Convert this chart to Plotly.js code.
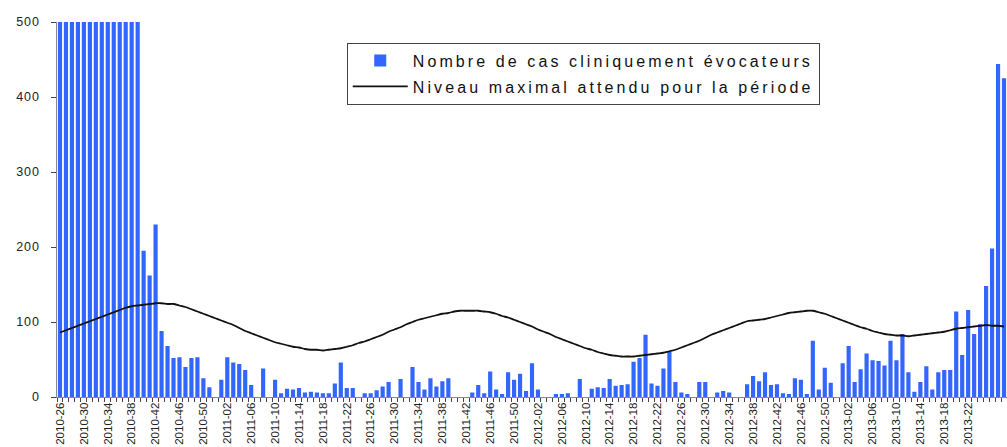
<!DOCTYPE html>
<html>
<head>
<meta charset="utf-8">
<script src="https://cdn.plot.ly/plotly-3.0.1.min.js"></script>
<style>
html,body{margin:0;padding:0;background:#fff;}
#chart{width:1007px;height:447px;}
.legendtext{letter-spacing:3.1px;}
.ytick text{letter-spacing:1px;}
</style>
</head>
<body>
<div id="chart"></div>
<script>
// Weekly categories 2010-26 .. 2013-28 (ISO years of 52 weeks)
const startYear = 2010, startWeek = 26, nWeeks = 159;
const categories = [];
(function(){
  let y = startYear, w = startWeek;
  for (let i = 0; i < nWeeks; i++) {
    categories.push(y + '-' + (w < 10 ? '0' + w : '' + w));
    w++; if (w > 52) { w = 1; y++; }
  }
})();

// Shown tick labels
const tickLabels = [
  '2010-26','2010-30','2010-34','2010-38','2010-42','2010-46','2010-50',
  '2011-02','2011-06','2011-10','2011-14','2011-18','2011-22','2011-26','2011-30','2011-34','2011-38','2011-42','2011-46','2011-50',
  '2012-02','2012-06','2012-10','2012-14','2012-18','2012-22','2012-26','2012-30','2012-34','2012-38','2012-42','2012-46','2012-50',
  '2013-02','2013-06','2013-10','2013-14','2013-18','2013-22'
];

// Nombre de cas cliniquement évocateurs (weekly)
const cas = [
  500,500,500,500,500,500,500,500,500,500,
  500,500,500,500,195,162,230,88,68,52,
  53,40,52,53,25,13,0,23,53,46,
  44,36,16,0,38,0,23,5,11,10,
  12,6,7,6,5,5,18,46,12,12,
  0,5,5,9,14,20,0,24,0,40,
  20,10,25,14,21,25,0,0,0,6,
  16,5,34,10,4,33,23,31,8,45,
  10,0,0,4,4,5,0,24,0,11,
  13,12,24,15,16,17,47,52,83,18,
  15,38,60,20,6,4,0,20,20,0,
  6,8,6,0,0,17,28,21,33,16,
  17,5,4,25,23,4,75,10,39,19,
  0,45,68,20,37,58,49,48,42,75,
  49,84,33,7,20,41,10,33,36,36,
  114,56,116,84,97,148,198,444,425
];

// Niveau maximal attendu pour la période (weekly)
const niveauMax = [
  86,89,92,95,98,101,104,107,110,113,
  116,119,121,122,123,124,125,125,124,124,
  122,120,117,114,111,108,105,102,99,96,
  92,88,85,82,79,76,73,71,69,67,
  66,64,63,63,62,63,64,65,67,69,
  72,74,77,80,83,87,90,93,97,100,
  103,105,107,109,111,112,114,115,115,115,
  115,114,113,111,108,106,103,100,97,94,
  90,87,84,80,77,74,71,68,65,63,
  60,58,56,55,54,54,54,55,56,57,
  58,59,61,63,66,69,72,75,79,83,
  86,89,92,95,98,101,102,103,104,106,
  108,110,112,113,114,115,115,113,111,108,
  105,102,99,96,93,91,88,86,84,83,
  82,82,81,82,83,84,85,86,87,89,
  91,92,93,94,95,96,95,95,94
];

const yTicks = [0,100,200,300,400,500];

const tickText = categories.map(c => tickLabels.indexOf(c) >= 0 ? c : '');

const traces = [
  {
    type: 'bar', x: categories, y: cas,
    name: 'Nombre de cas cliniquement évocateurs',
    legendgroup: 'g1',
    marker: {color: '#3366FF', line: {width: 0}},
    hoverinfo: 'x+y'
  },
  {
    type: 'scatter', mode: 'lines', x: categories, y: niveauMax,
    name: 'Niveau maximal attendu pour la période',
    legendgroup: 'g2',
    line: {color: '#111111', width: 1.8, shape: 'spline', smoothing: 0.6}
  }
];

const layout = {
  width: 1007, height: 447,
  margin: {l: 57, r: 0, t: 22, b: 50, pad: 0},
  paper_bgcolor: '#ffffff', plot_bgcolor: '#ffffff',
  font: {family: '"Liberation Sans", Arial, sans-serif', color: '#222'},
  bargap: 0.3,
  showlegend: true,
  legend: {
    x: 0.305, y: 0.945, xanchor: 'left', yanchor: 'top',
    bordercolor: '#444', borderwidth: 1, bgcolor: '#ffffff',
    font: {size: 16, color: '#111'}, traceorder: 'grouped',
    tracegroupgap: 2, itemwidth: 55
  },
  xaxis: {
    type: 'category', range: [-0.5, nWeeks - 0.5],
    tickmode: 'array', tickvals: categories, ticktext: tickText,
    tickangle: -90, ticks: 'outside', ticklen: 4, tickcolor: '#444',
    tickson: 'boundaries',
    showline: true, linecolor: '#888', linewidth: 1,
    showgrid: false, zeroline: false,
    tickfont: {size: 11.5, color: '#222'}, automargin: false
  },
  yaxis: {
    range: [0, 500], tickmode: 'array', tickvals: yTicks,
    ticks: 'outside', ticklen: 5, tickcolor: '#444',
    showline: true, linecolor: '#888', linewidth: 1.5,
    showgrid: false, zeroline: false,
    tickfont: {size: 12.5, color: '#222'}, ticklabelstandoff: 8,
    automargin: false
  }
};

Plotly.newPlot('chart', traces, layout, {staticPlot: true, displayModeBar: false});
</script>
</body>
</html>
